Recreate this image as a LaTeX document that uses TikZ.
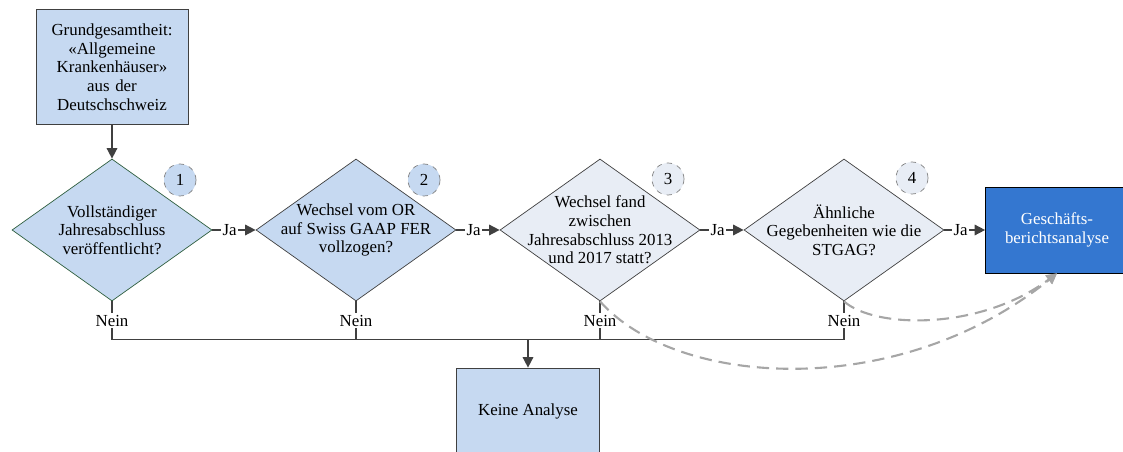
\documentclass[tikz,border=0pt]{standalone}
\usepackage{fontspec}
\setmainfont{Liberation Serif}
\newfontfamily\diagfont{Liberation Serif}
\usetikzlibrary{shapes.geometric, arrows.meta, positioning}

\definecolor{lightblue}{HTML}{C6D9F1}
\definecolor{paleblue}{HTML}{E8EDF5}
\definecolor{darkblue}{HTML}{3477D0}
\definecolor{linegray}{HTML}{404040}
\definecolor{dashgray}{HTML}{A6A6A6}
\definecolor{darkgreen}{HTML}{2F5F3F}

\tikzstyle{start} = [draw=linegray, rectangle, minimum width=2.96cm, minimum height=2.3cm, text width=2.8cm, align=center, fill=lightblue]
\tikzstyle{check} = [draw=linegray, diamond, minimum width=4cm, minimum height=2.84cm, inner sep=-0.6cm, align=center, fill=lightblue]
\tikzstyle{num} = [draw=gray, dashed, circle, minimum size=0.64cm, inner sep=0pt, fill=lightblue]
\tikzstyle{box} = [draw=linegray, rectangle, minimum width=2.86cm, minimum height=1.72cm, align=center, fill=lightblue]
\tikzstyle{result} = [draw=black, rectangle, minimum width=2.86cm, minimum height=1.72cm, align=center, fill=darkblue, text=white]
\tikzstyle{line} = [draw=linegray, line width=0.9pt]
\tikzstyle{arrow} = [line, ->, >={Triangle[length=6pt, width=6pt]}]
\tikzstyle{dasharrow} = [draw=dashgray, line width=1.2pt, dash pattern=on 7pt off 4pt, ->, >={Triangle[length=6pt, width=6pt]}]
\tikzstyle{ja} = [fill=white, inner sep=1pt, pos=0.4]
\tikzstyle{nein} = [fill=white, inner sep=1pt]

\begin{document}
\begin{tikzpicture}[node distance=4.88cm, font=\diagfont\fontsize{9.6}{10.6}\selectfont]
\useasboundingbox (-2.24,-4.44) rectangle (20.22,4.6);

% Pruefschritte
\node (d1) [check, draw=darkgreen] {Vollständiger\\Jahresabschluss\\veröffentlicht?};
\node (d2) [check, right of=d1] {Wechsel vom OR\\auf Swiss GAAP FER\\vollzogen?};
\node (d3) [check, right of=d2, fill=paleblue] {Wechsel fand\\zwischen\\Jahresabschluss 2013\\und 2017 statt?};
\node (d4) [check, right of=d3, fill=paleblue] {Ähnliche\\Gegebenheiten wie die\\STGAG?};

% Nummern
\node (n1) [num, xshift=1.36cm, yshift=1cm] at (d1) {1};
\node (n2) [num, xshift=1.36cm, yshift=1cm] at (d2) {2};
\node (n3) [num, xshift=1.36cm, yshift=1.02cm, fill=paleblue] at (d3) {3};
\node (n4) [num, xshift=1.36cm, yshift=1.04cm, fill=paleblue] at (d4) {4};

% Start und Ergebnisse
\node (pop) [start, node distance=3.26cm, above of=d1] {Grundgesamtheit:\\«Allgemeine\\Krankenhäuser»\\aus der\\Deutschschweiz};
\node (report) [result, node distance=4.26cm, right of=d4] {Geschäfts-\\berichtsanalyse};
\node (none) [box, node distance=3.62cm, below of=d3, xshift=-1.44cm] {Keine Analyse};
\coordinate [above=0.56cm of none.north] (bus);

% Pfeile
\draw [arrow] (pop) -- (d1);
\draw [arrow] (d1.east) -- node[ja] {Ja} (d2.west);
\draw [arrow] (d2.east) -- node[ja] {Ja} (d3.west);
\draw [arrow] (d3.east) -- node[ja] {Ja} (d4.west);
\draw [arrow] (d4.east) -- node[ja] {Ja} (report.west);

\foreach \d in {d1,d2,d3,d4}
  \draw [line] (\d.south) -- node[nein] {Nein} (\d.south |- bus);
\draw [line] (d1.south |- bus) -- (d4.south |- bus);
\draw [arrow] (bus) -- (none);

\draw [dasharrow] (d3.south) .. controls +(1.54,-1.74) and +(-3.16,-2.56) .. (report.south);
\draw [dasharrow] (d4.south) .. controls +(0.6,-0.54) and +(-1.56,-1.16) .. (report.south);

\end{tikzpicture}
\end{document}
